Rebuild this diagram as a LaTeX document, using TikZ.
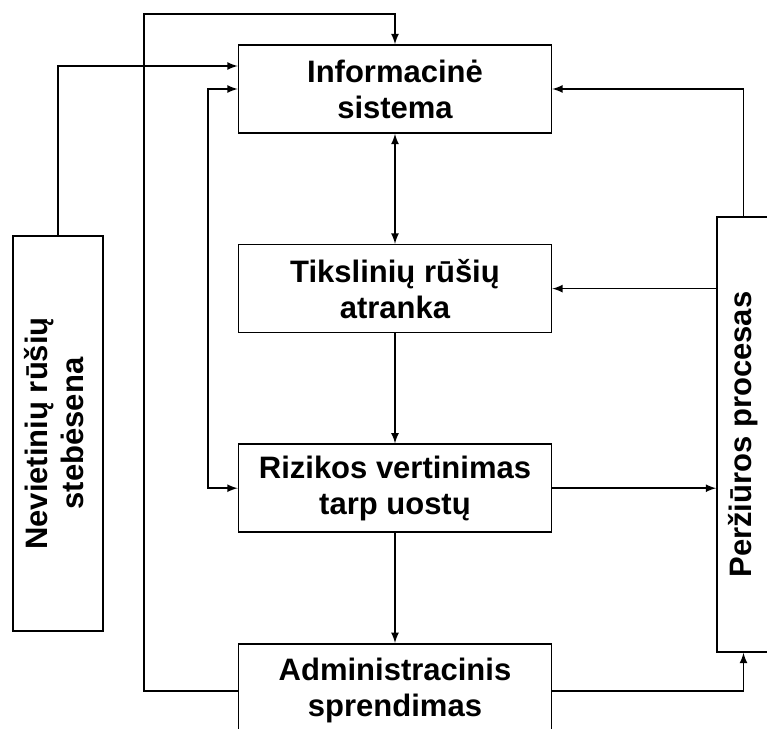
\documentclass[tikz,border=0pt]{standalone}
\usepackage{fontspec}
\setmainfont{Liberation Sans}
\usepackage{tikz}
\usetikzlibrary{positioning, arrows}
\tikzset{
    >=latex, % filled triangle arrow heads
    every node/.style={font=\bfseries\fontsize{15.5}{18}\selectfont}, % bold sans text in all boxes
}

\begin{document}
\begin{tikzpicture}[
                    x=0.5pt, y=-0.5pt,
                    line width=0.8pt,
                    stepBox/.style={draw, align=center, minimum width=156.5pt, minimum height=44pt, inner sep=0pt},
                    sideBox/.style={draw, inner sep=0pt},
                    node distance=55pt,
                ]
                \useasboundingbox (0,0) rectangle (767,729);
                \node[stepBox] (info) at (395,89) {Informacinė\\sistema};
                \node[stepBox, below=of info] (atranka) {Tikslinių rūšių\\atranka};
                \node[stepBox, below=of atranka] (rizika) {Rizikos vertinimas\\tarp uostų};
                \node[stepBox, below=of rizika, minimum height=47pt] (sprendimas) {Administracinis\\sprendimas};
                \node[sideBox, minimum width=45pt, minimum height=197.5pt] (stebesena) at (58,433.5)
                    {\rotatebox{90}{\begin{tabular}{@{}c@{}}Nevietinių rūšių\\stebėsena\end{tabular}}};
                \node[sideBox, minimum width=26.5pt, minimum height=217.5pt] (perziura) at (743.5,434.5)
                    {\rotatebox{90}{Peržiūros procesas}};
                \coordinate (topLeft) at (144,14);
                \coordinate (innerLeft) at (208,0);
                \draw
                (info) edge[<->] (atranka)
                (atranka) edge[->] (rizika)
                (rizika) edge[->] (sprendimas);
                \draw[->] (stebesena.north) |- ([yshift=11.5pt]info.west);
                \draw[->] (sprendimas.west) -| (topLeft) -| (info.north);
                \draw[<->] (info.west) -- (info.west -| innerLeft) -- (rizika.west -| innerLeft) -- (rizika.west);
                \draw[->] (perziura.north) |- (info.east);
                \draw[->] (perziura.west |- atranka.east) -- (atranka.east);
                \draw[->] (rizika.east) -- (rizika.east -| perziura.west);
                \draw[->] (sprendimas.east) -| (perziura.south);
            \end{tikzpicture}
\end{document}
